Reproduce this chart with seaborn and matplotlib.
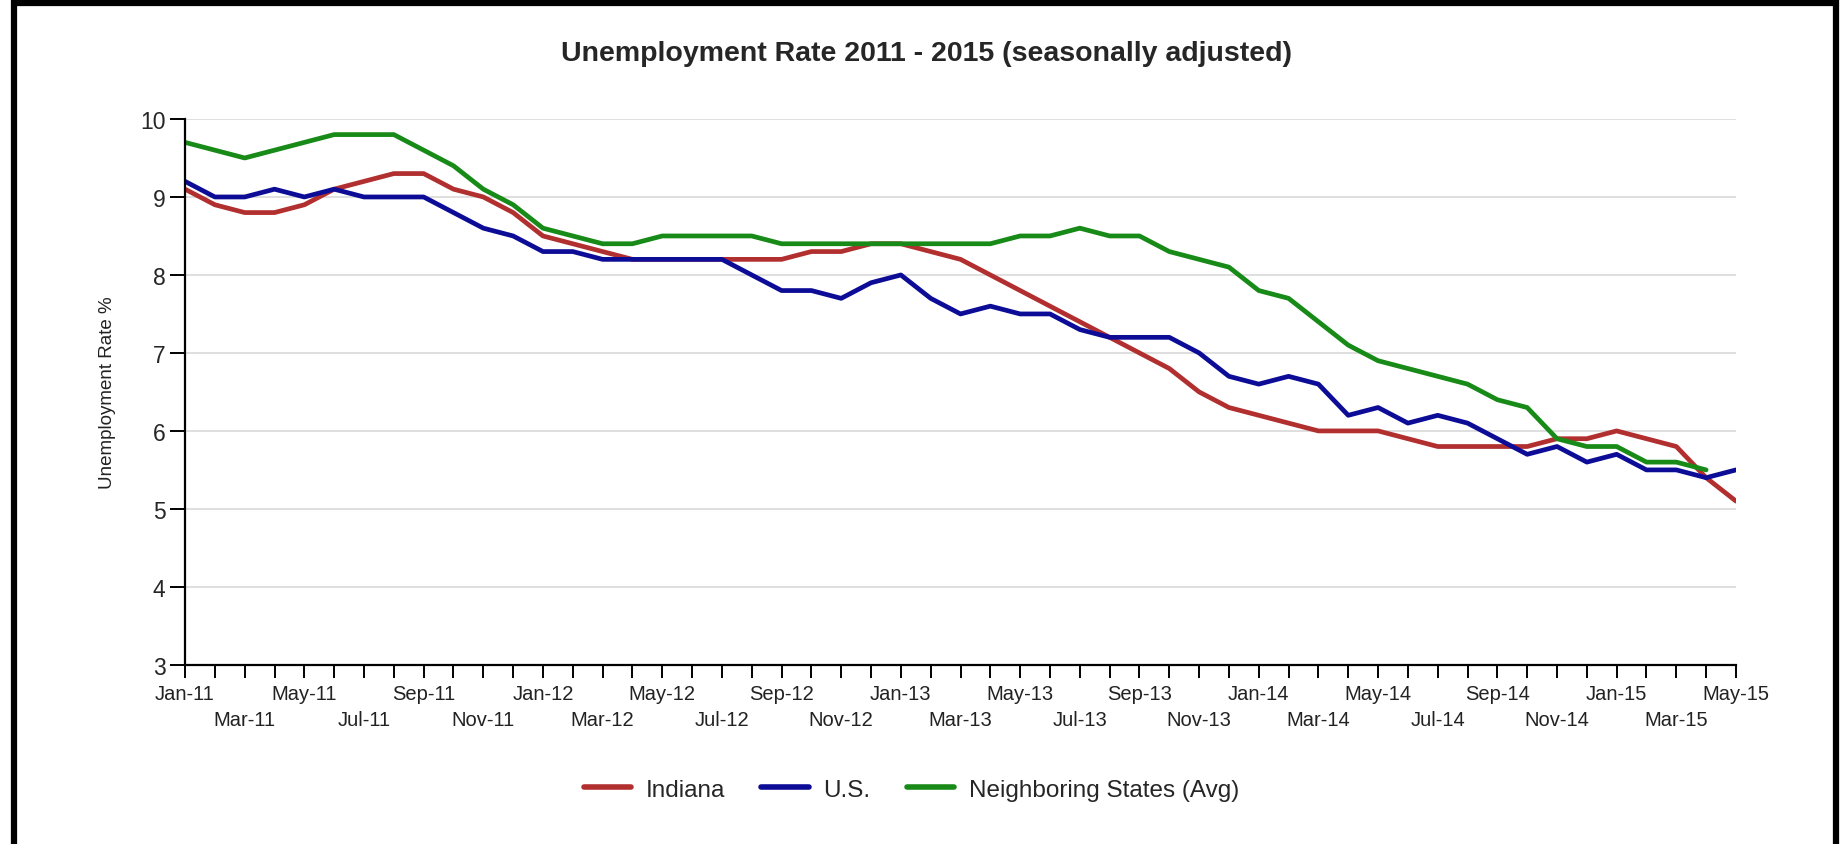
import numpy as np
import pandas as pd
import matplotlib
matplotlib.use("Agg")
import matplotlib.pyplot as plt
import seaborn as sns
from matplotlib.patches import Rectangle

# meses Jan-11 .. May-15
months = list(pd.date_range("2011-01-01", periods=53, freq="MS").strftime("%b-%y"))

indiana = [9.1, 8.9, 8.8, 8.8, 8.9, 9.1, 9.2, 9.3, 9.3, 9.1, 9.0, 8.8,
           8.5, 8.4, 8.3, 8.2, 8.2, 8.2, 8.2, 8.2, 8.2, 8.3, 8.3, 8.4,
           8.4, 8.3, 8.2, 8.0, 7.8, 7.6, 7.4, 7.2, 7.0, 6.8, 6.5, 6.3,
           6.2, 6.1, 6.0, 6.0, 6.0, 5.9, 5.8, 5.8, 5.8, 5.8, 5.9, 5.9,
           6.0, 5.9, 5.8, 5.4, 5.1]
us = [9.2, 9.0, 9.0, 9.1, 9.0, 9.1, 9.0, 9.0, 9.0, 8.8, 8.6, 8.5,
      8.3, 8.3, 8.2, 8.2, 8.2, 8.2, 8.2, 8.0, 7.8, 7.8, 7.7, 7.9,
      8.0, 7.7, 7.5, 7.6, 7.5, 7.5, 7.3, 7.2, 7.2, 7.2, 7.0, 6.7,
      6.6, 6.7, 6.6, 6.2, 6.3, 6.1, 6.2, 6.1, 5.9, 5.7, 5.8, 5.6,
      5.7, 5.5, 5.5, 5.4, 5.5]
neighbors = [9.7, 9.6, 9.5, 9.6, 9.7, 9.8, 9.8, 9.8, 9.6, 9.4, 9.1, 8.9,
             8.6, 8.5, 8.4, 8.4, 8.5, 8.5, 8.5, 8.5, 8.4, 8.4, 8.4, 8.4,
             8.4, 8.4, 8.4, 8.4, 8.5, 8.5, 8.6, 8.5, 8.5, 8.3, 8.2, 8.1,
             7.8, 7.7, 7.4, 7.1, 6.9, 6.8, 6.7, 6.6, 6.4, 6.3, 5.9, 5.8,
             5.8, 5.6, 5.6, 5.5, np.nan]

series_names = ["Indiana", "U.S.", "Neighboring States (Avg)"]
colors = ["#B22F2F", "#0C0C96", "#178A17"]

df = pd.DataFrame({
    "mes": list(range(len(months))) * 3,
    "taxa": indiana + us + neighbors,
    "serie": np.repeat(series_names, len(months)),
})

sns.set_style("white")
plt.rcParams["font.family"] = ["Liberation Sans", "DejaVu Sans"]

fig = plt.figure(figsize=(18.45, 8.45), dpi=100)
ax = fig.add_axes([0.1003, 0.212, 0.8406, 0.646])

sns.lineplot(data=df, x="mes", y="taxa", hue="serie", hue_order=series_names,
             palette=colors, linewidth=3.4, ax=ax, legend=False)
for ln in ax.lines:
    ln.set_solid_joinstyle("round")
    ln.set_solid_capstyle("round")

ax.set_xlim(0, len(months) - 1)
ax.set_ylim(3, 10)
ax.set_yticks(range(3, 11))
ax.yaxis.grid(True, color="#dcdcdc", linewidth=1.3)
ax.xaxis.grid(False)

# rótulos alternados em duas linhas
ax.set_xticks(range(len(months)))
labels = []
for i, m in enumerate(months):
    if i % 2 == 1:
        labels.append("")
    elif (i // 2) % 2 == 0:
        labels.append(m)
    else:
        labels.append("\n" + m)
ax.set_xticklabels(labels, fontsize=14.5, color="#222222", linespacing=1.45)
ax.tick_params(axis="x", direction="out", length=9, width=1.4, color="black", pad=5)
ax.tick_params(axis="y", direction="out", length=11, width=1.4, color="black",
               labelsize=16.5, pad=3)
ax.tick_params(bottom=True, left=True)

for s in ["top", "right"]:
    ax.spines[s].set_visible(False)
for s in ["left", "bottom"]:
    ax.spines[s].set_color("black")
    ax.spines[s].set_linewidth(1.6)

ax.set_xlabel("")
ax.set_ylabel("Unemployment Rate %", fontsize=13.5, labelpad=17, color="#222222")

fig.suptitle("Unemployment Rate 2011 - 2015 (seasonally adjusted)",
             fontsize=20.5, fontweight="bold", y=0.952, x=0.502)

handles = [plt.Line2D([], [], color=c, linewidth=4) for c in colors]
fig.legend(handles, series_names, loc="center", bbox_to_anchor=(0.494, 0.064),
           ncol=3, frameon=False, fontsize=17.5, handlelength=1.95, columnspacing=1.5,
           handletextpad=0.6)

# moldura preta
fig.add_artist(Rectangle((0.0075, -0.05), 0.9875, 1.045, transform=fig.transFigure,
                         fill=False, edgecolor="black", linewidth=4.5))

fig.savefig("out.png", dpi=100, facecolor="white")
